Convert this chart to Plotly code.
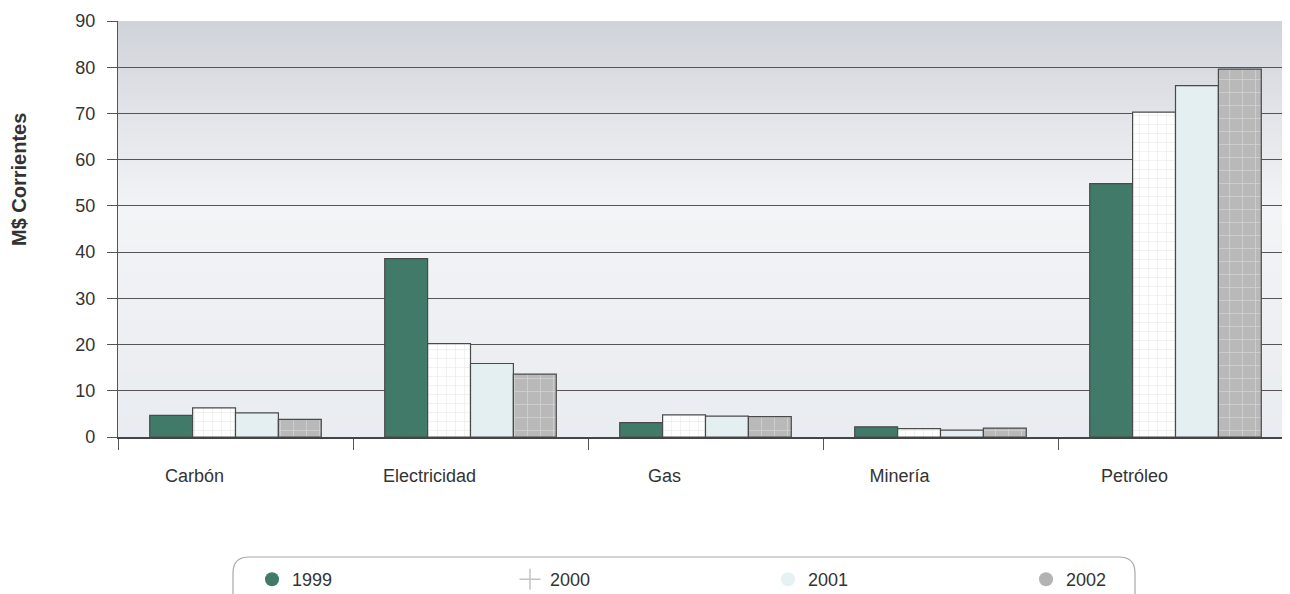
import struct
import zlib
import base64
import plotly.graph_objects as go

# ---------------- data ----------------
categories = ["Carbón", "Electricidad", "Gas", "Minería", "Petróleo"]
years = ["1999", "2000", "2001", "2002"]
v1999 = [4.7, 38.6, 3.1, 2.2, 54.8]
v2000 = [6.3, 20.2, 4.8, 1.8, 70.3]
v2001 = [5.2, 15.9, 4.5, 1.5, 76.0]
v2002 = [3.8, 13.6, 4.4, 1.9, 79.6]
y_ticks = [0, 10, 20, 30, 40, 50, 60, 70, 80, 90]
y_title = "M$ Corrientes"

series = [v1999, v2000, v2001, v2002]

# ---------------- styles ----------------
FONT = "Liberation Sans, Arial, sans-serif"
TXT = "#333333"
GRID = "#555555"
bar_styles = [
    dict(color="#417a68", pattern=None),
    dict(color="#ffffff", pattern=dict(shape="+", fgcolor="#cfcfcf", bgcolor="#ffffff", size=9, solidity=0.12)),
    dict(color="#e4eff2", pattern=None),
    dict(color="#bdbdbd", pattern=dict(shape="+", fgcolor="#ececec", bgcolor="#b9b9b9", size=13, solidity=0.12)),
]
legend_markers = [
    dict(symbol="circle", size=14, color="#417a68"),
    dict(symbol="cross-thin-open", size=15, color="#c4c4c4", line=dict(width=1.5, color="#c4c4c4")),
    dict(symbol="circle", size=14, color="#e6f1f3"),
    dict(symbol="circle", size=14, color="#b3b3b3"),
]


# ---------------- background gradient (decoration) ----------------
def gradient_png(stops, height=120):
    rows = []
    for i in range(height):
        t = i / (height - 1)
        for k in range(len(stops) - 1):
            t0, c0 = stops[k]
            t1, c1 = stops[k + 1]
            if t0 <= t <= t1:
                f = (t - t0) / (t1 - t0) if t1 > t0 else 0
                rgb = [round(c0[j] + (c1[j] - c0[j]) * f) for j in range(3)]
                break
        rows.append(b"\x00" + bytes(rgb))
    raw = b"".join(rows)

    def chunk(tag, data):
        return (struct.pack(">I", len(data)) + tag + data
                + struct.pack(">I", zlib.crc32(tag + data) & 0xFFFFFFFF))

    png = (b"\x89PNG\r\n\x1a\n"
           + chunk(b"IHDR", struct.pack(">IIBBBBB", 1, height, 8, 2, 0, 0, 0))
           + chunk(b"IDAT", zlib.compress(raw))
           + chunk(b"IEND", b""))
    return "data:image/png;base64," + base64.b64encode(png).decode()


bg = gradient_png([
    (0.0, (208, 211, 217)),
    (0.22, (226, 228, 233)),
    (0.45, (243, 244, 246)),
    (0.7, (238, 240, 243)),
    (1.0, (233, 236, 240)),
])

fig = go.Figure()

for name, vals, st in zip(years, series, bar_styles):
    marker = dict(color=st["color"], line=dict(color="#4a4a4a", width=1.2))
    if st["pattern"]:
        marker["pattern"] = st["pattern"]
    fig.add_trace(go.Bar(x=categories, y=vals, name=name, marker=marker,
                         showlegend=False, hoverinfo="x+y+name"))

for name, mk in zip(years, legend_markers):
    fig.add_trace(go.Scatter(x=[None], y=[None], mode="markers", name=name,
                             marker=mk, showlegend=True))

# page body has an 8px margin; figure pixel = screen pixel - 8
W, H = 1290, 594
ML, MR, MT, MB = 110, 5, 13, 165
PW, PH = W - ML - MR, H - MT - MB


def px_x(px):
    return (px - ML) / PW


def px_y(py):
    return (H - MB - py) / PH


# rounded legend frame
x0, x1 = px_x(225), px_x(1127)
yt, yb = px_y(549), px_y(620)
rx, ry = 16 / PW, 16 / PH
path = (f"M {x0+rx},{yt} L {x1-rx},{yt} Q {x1},{yt} {x1},{yt-ry} "
        f"L {x1},{yb+ry} Q {x1},{yb} {x1-rx},{yb} L {x0+rx},{yb} "
        f"Q {x0},{yb} {x0},{yb+ry} L {x0},{yt-ry} Q {x0},{yt} {x0+rx},{yt} Z")

fig.update_layout(
    width=W, height=H,
    margin=dict(l=ML, r=MR, t=MT, b=MB, autoexpand=False),
    paper_bgcolor="white",
    plot_bgcolor="white",
    font=dict(family=FONT, color=TXT),
    barmode="group",
    bargap=0.27,
    bargroupgap=0,
    images=[dict(source=bg, xref="paper", yref="paper", x=0, y=1, sizex=1, sizey=1,
                 xanchor="left", yanchor="top", sizing="stretch", layer="below")],
    shapes=[dict(type="path", path=path, xref="paper", yref="paper",
                 line=dict(color="#a8a8a8", width=1.2), fillcolor="rgba(0,0,0,0)")],
    legend=dict(orientation="h", x=px_x(244), xanchor="left",
                y=px_y(553), yanchor="top",
                entrywidth=213, entrywidthmode="pixels",
                font=dict(size=18, color=TXT, family=FONT),
                bgcolor="rgba(0,0,0,0)", borderwidth=0, itemclick=False),
    annotations=[dict(text=f"<b>{y_title}</b>", textangle=-90, xref="paper", yref="paper",
                      x=px_x(11), y=px_y(172), xanchor="center", yanchor="middle",
                      showarrow=False,
                      font=dict(size=20, color=TXT, family=FONT))],
)

fig.update_xaxes(
    type="category",
    showline=True, linecolor="#444444", linewidth=1.5,
    ticks="outside", tickson="boundaries", ticklen=11, tickcolor="#555555", tickwidth=1.2,
    tickfont=dict(size=18, color=TXT, family=FONT),
    ticklabelstandoff=22, ticklabelshift=-41,
    showgrid=False, zeroline=False,
)
fig.update_yaxes(
    range=[0, 90], tickvals=y_ticks,
    showline=True, linecolor="#555555", linewidth=1.2,
    ticks="outside", ticklen=10, tickcolor="#555555", tickwidth=1.2,
    tickfont=dict(size=18, color=TXT, family=FONT),
    ticklabelstandoff=8,
    showgrid=True, gridcolor=GRID, gridwidth=1.3,
    zeroline=False,
)

fig.write_html("out.html")
